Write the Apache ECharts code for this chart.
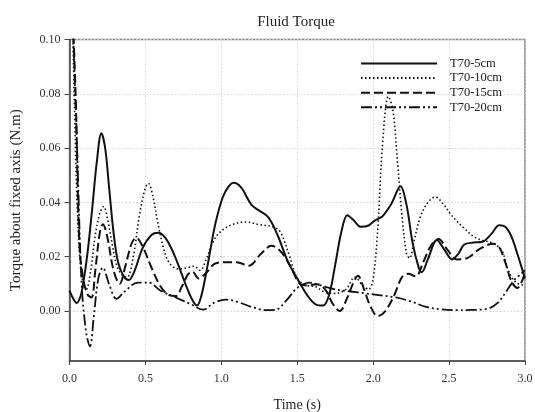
<!DOCTYPE html>
<html>
<head>
<meta charset="utf-8">
<script src="https://cdn.jsdelivr.net/npm/echarts@6/dist/echarts.min.js"></script>
<style>
  html, body { margin: 0; padding: 0; background: #fff; }
  #chart { width: 535px; height: 412px; }
</style>
</head>
<body>
<div id="chart"></div>
<script>
// Fluid torque about the fixed axis for four submergence depths (T70 runs)
const seriesNames = ['T70-5cm', 'T70-10cm', 'T70-15cm', 'T70-20cm'];

const time5 = [0, 0.025, 0.047, 0.07, 0.09, 0.12, 0.15, 0.18, 0.21, 0.235, 0.26, 0.29, 0.32, 0.36, 0.39, 0.43, 0.48, 0.54, 0.585, 0.63, 0.68, 0.73, 0.77, 0.81, 0.84, 0.87, 0.91, 0.96, 1.01, 1.05, 1.08, 1.13, 1.2, 1.25, 1.31, 1.37, 1.44, 1.51, 1.57, 1.62, 1.67, 1.71, 1.75, 1.79, 1.83, 1.87, 1.92, 1.97, 2.01, 2.06, 2.12, 2.18, 2.22, 2.26, 2.3, 2.32, 2.36, 2.42, 2.47, 2.52, 2.56, 2.6, 2.66, 2.72, 2.78, 2.83, 2.87, 2.91, 2.95, 3.0];
const torque5 = [0.0075, 0.0045, 0.003, 0.005, 0.01, 0.022, 0.038, 0.055, 0.0655, 0.06, 0.046, 0.029, 0.018, 0.0125, 0.0114, 0.015, 0.023, 0.028, 0.0288, 0.027, 0.022, 0.015, 0.009, 0.004, 0.002, 0.006, 0.017, 0.032, 0.042, 0.046, 0.0472, 0.0455, 0.039, 0.037, 0.0345, 0.028, 0.018, 0.011, 0.0055, 0.0025, 0.002, 0.006, 0.017, 0.029, 0.0353, 0.0335, 0.031, 0.0315, 0.0333, 0.0348, 0.0395, 0.046, 0.039, 0.025, 0.016, 0.0143, 0.019, 0.0262, 0.0225, 0.019, 0.021, 0.0245, 0.0252, 0.0255, 0.0285, 0.0316, 0.031, 0.0275, 0.021, 0.012];

const time10 = [0, 0.02, 0.035, 0.05, 0.07, 0.09, 0.11, 0.14, 0.17, 0.2, 0.225, 0.25, 0.28, 0.31, 0.35, 0.38, 0.42, 0.46, 0.5, 0.52, 0.55, 0.58, 0.62, 0.66, 0.72, 0.78, 0.82, 0.86, 0.9, 0.95, 1.0, 1.08, 1.16, 1.25, 1.34, 1.39, 1.45, 1.5, 1.56, 1.62, 1.68, 1.75, 1.82, 1.88, 1.93, 1.97, 2.0, 2.03, 2.06, 2.1, 2.13, 2.16, 2.19, 2.22, 2.24, 2.27, 2.31, 2.36, 2.41, 2.46, 2.52, 2.59, 2.66, 2.72, 2.79, 2.85, 2.89, 2.94, 3.0];
const torque10 = [0.14, 0.105, 0.07, 0.04, 0.018, 0.01, 0.008, 0.015, 0.028, 0.036, 0.0385, 0.034, 0.025, 0.017, 0.013, 0.0125, 0.02, 0.035, 0.0455, 0.047, 0.042, 0.033, 0.023, 0.0175, 0.0155, 0.016, 0.0165, 0.015, 0.019, 0.026, 0.0295, 0.032, 0.0328, 0.0318, 0.031, 0.029, 0.02, 0.012, 0.0095, 0.009, 0.007, 0.0065, 0.008, 0.0125, 0.0095, 0.008, 0.012, 0.03, 0.06, 0.079, 0.074, 0.055, 0.035, 0.021, 0.0195, 0.026, 0.0345, 0.04, 0.042, 0.0395, 0.035, 0.031, 0.0275, 0.026, 0.025, 0.022, 0.015, 0.0105, 0.0095];

const time15 = [0, 0.04, 0.065, 0.09, 0.12, 0.145, 0.17, 0.2, 0.22, 0.25, 0.29, 0.33, 0.37, 0.41, 0.44, 0.48, 0.54, 0.6, 0.65, 0.7, 0.74, 0.78, 0.81, 0.85, 0.9, 0.96, 1.04, 1.1, 1.18, 1.26, 1.33, 1.39, 1.45, 1.52, 1.56, 1.63, 1.69, 1.73, 1.78, 1.83, 1.87, 1.9, 1.94, 1.98, 2.03, 2.08, 2.14, 2.19, 2.23, 2.28, 2.33, 2.38, 2.43, 2.49, 2.55, 2.62, 2.7, 2.79, 2.83, 2.87, 2.91, 2.95, 2.98, 3.0];
const torque15 = [0.14, 0.08, 0.025, 0.012, 0.006, 0.005, 0.015, 0.029, 0.032, 0.027, 0.015, 0.01, 0.017, 0.025, 0.027, 0.024, 0.016, 0.009, 0.006, 0.0055, 0.009, 0.0135, 0.0145, 0.012, 0.014, 0.0175, 0.018, 0.018, 0.0167, 0.021, 0.024, 0.022, 0.017, 0.0099, 0.0095, 0.0099, 0.0075, 0.003, 0.0, 0.005, 0.0105, 0.013, 0.008, 0.002, -0.0019, 0.0, 0.006, 0.0125, 0.0137, 0.0128, 0.018, 0.024, 0.0265, 0.0225, 0.019, 0.0195, 0.0228, 0.0248, 0.0235, 0.018, 0.011, 0.0085, 0.011, 0.014];

const time20 = [0, 0.05, 0.08, 0.11, 0.135, 0.16, 0.19, 0.22, 0.26, 0.31, 0.36, 0.45, 0.52, 0.6, 0.7, 0.8, 0.88, 0.95, 1.03, 1.1, 1.2, 1.3, 1.36, 1.43, 1.5, 1.58, 1.65, 1.75, 1.85, 1.95, 2.05, 2.15, 2.25, 2.35, 2.45, 2.55, 2.65, 2.75, 2.82, 2.88, 2.93, 2.97, 3.0];
const torque20 = [0.14, 0.06, 0.01, -0.008, -0.013, -0.002, 0.012, 0.016, 0.01, 0.0045, 0.007, 0.0105, 0.0105, 0.0075, 0.005, 0.0025, 0.0005, 0.003, 0.0042, 0.0035, 0.0015, 0.0003, 0.0005, 0.004, 0.0085, 0.0105, 0.0095, 0.008, 0.0072, 0.0065, 0.0058, 0.005, 0.0035, 0.0015, 0.0006, 0.0003, 0.0004, 0.0008, 0.003, 0.0075, 0.0115, 0.0135, 0.015];

const xTicks = [0, 0.5, 1.0, 1.5, 2.0, 2.5, 3.0];
const yTicks = [0, 0.02, 0.04, 0.06, 0.08, 0.10];

const pairs = (ts, vs) => ts.map((t, i) => [t, vs[i]]);

const serif = '"Liberation Serif", "DejaVu Serif", serif';
const ink = '#111';

const lineStyles = [
  { width: 2, type: 'solid' },
  { width: 1.6, type: [1.5, 2.5] },
  { width: 2, type: [9, 4] },
  { width: 1.8, type: [11, 3, 2, 3, 2, 3] }
];
const seriesData = [pairs(time5, torque5), pairs(time10, torque10), pairs(time15, torque15), pairs(time20, torque20)];

const chart = echarts.init(document.getElementById('chart'), null, { renderer: 'canvas' });
chart.setOption({
  animation: false,
  backgroundColor: '#fff',
  title: {
    text: 'Fluid Torque',
    left: 291, top: 10, textAlign: 'center',
    textStyle: { fontFamily: serif, fontSize: 15, fontWeight: 'normal', color: '#222' }
  },
  legend: {
    orient: 'vertical',
    left: 355, top: 52,
    itemWidth: 76, itemHeight: 12, itemGap: 1.6,
    itemStyle: { color: 'transparent', borderColor: 'transparent', borderWidth: 0, opacity: 0 },
    textStyle: { fontFamily: serif, fontSize: 12.5, lineHeight: 13, color: '#222', padding: [0, 0, 0, 8] },
    data: seriesNames
  },
  grid: {
    left: 69.5, right: 10, top: 39.5, bottom: 51,
    outerBoundsMode: 'none', containLabel: false,
    show: true, borderColor: '#888', borderWidth: 1.5, backgroundColor: 'transparent'
  },
  xAxis: {
    type: 'value', min: 0, max: 3, interval: 0.5,
    name: 'Time (s)', nameLocation: 'middle', nameGap: 37,
    nameTextStyle: { fontFamily: serif, fontSize: 14, color: '#222' },
    axisLine: { show: true, onZero: false, lineStyle: { color: '#444', width: 1.5 } },
    axisTick: { show: true, length: 4, inside: false, lineStyle: { color: '#444' } },
    axisLabel: { fontFamily: serif, fontSize: 12, color: '#333', margin: 12, formatter: v => v.toFixed(1) },
    splitLine: { show: true, lineStyle: { color: '#d4d4d4', type: [1.5, 2], width: 1 } }
  },
  yAxis: {
    type: 'value', min: -0.0184, max: 0.10,
    name: 'Torque about fixed axis (N.m)', nameLocation: 'middle', nameGap: 46,
    nameTextStyle: { fontFamily: serif, fontSize: 15, color: '#222' },
    axisLine: { show: true, onZero: false, lineStyle: { color: '#444', width: 1.5 } },
    axisTick: { show: true, length: 5, inside: false, customValues: yTicks, lineStyle: { color: '#444' } },
    axisLabel: { fontFamily: serif, fontSize: 12, color: '#333', margin: 9, customValues: yTicks, formatter: v => v.toFixed(2) },
    splitLine: { show: true, lineStyle: { color: '#d4d4d4', type: [1.5, 2], width: 1 } }
  },
  series: seriesNames.map((name, i) => ({
    name,
    type: 'line',
    data: seriesData[i],
    symbol: 'none',
    showSymbol: false,
    smooth: 0.35,
    clip: true,
    color: ink,
    lineStyle: Object.assign({ color: ink }, lineStyles[i]),
    z: 10 - i
  }))
});
</script>
</body>
</html>
